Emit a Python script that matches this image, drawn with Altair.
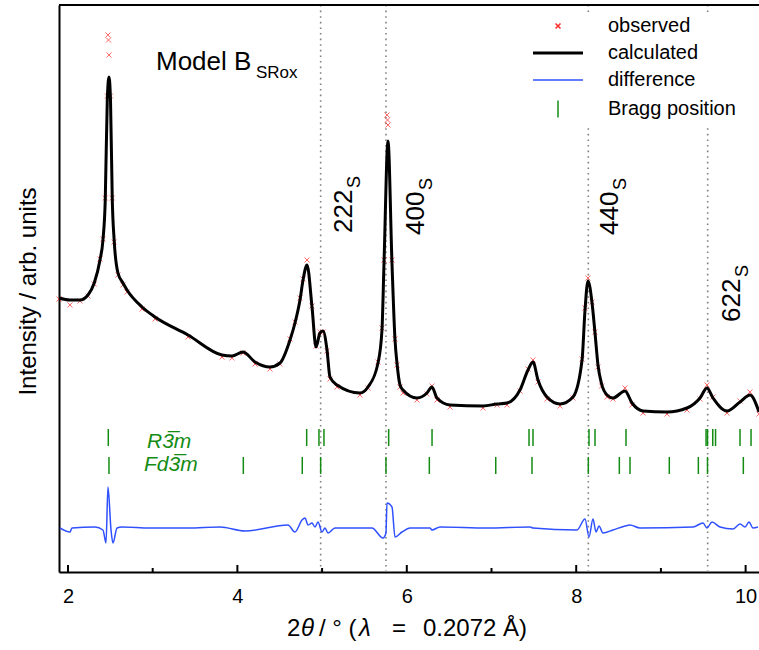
import altair as alt
import pandas as pd

FONT = "Liberation Sans"
W, H = 700, 567

# ---------------- data ----------------
SERIES = ["observed", "calculated", "difference", "Bragg position"]

calc_2theta = [1.894, 2.024, 2.142, 2.236, 2.310, 2.378, 2.413, 2.440, 2.464, 2.484,
               2.502, 2.523, 2.545, 2.590, 2.649, 2.697, 2.874, 3.027, 3.417, 3.818,
               3.936, 4.066, 4.208, 4.385, 4.503, 4.621, 4.680, 4.739, 4.775, 4.822,
               4.881, 4.928, 4.975, 5.011, 5.058, 5.093, 5.176, 5.447, 5.542, 5.660,
               5.707, 5.731, 5.778, 5.825, 5.861, 5.884, 5.920, 5.955, 6.120, 6.238,
               6.297, 6.357, 6.510, 6.900, 7.065, 7.183, 7.336, 7.431, 7.490, 7.549,
               7.655, 7.809, 7.962, 8.069, 8.104, 8.139, 8.187, 8.222, 8.257, 8.300,
               8.364, 8.434, 8.576, 8.659, 8.789, 9.072, 9.308, 9.462, 9.544, 9.615,
               9.780, 9.934, 10.052, 10.158]
calc_intensity = [274, 272, 272, 277, 289, 312, 332, 372, 472, 495,
                  472, 372, 332, 299, 289, 282, 265, 255, 237, 217,
                  216, 220, 210, 205, 209, 232, 249, 272, 292, 307,
                  265, 225, 239, 241, 222, 195, 187, 179, 185, 209,
                  242, 309, 431, 309, 232, 209, 187, 182, 174, 179,
                  185, 174, 167, 166, 168, 169, 182, 202, 210, 192,
                  175, 168, 175, 212, 262, 291, 269, 239, 207, 188,
                  177, 174, 181, 169, 161, 160, 164, 174, 184, 174,
                  161, 170, 177, 160]

obs_2theta = [1.894, 2.024, 2.142, 2.236, 2.310, 2.378, 2.413, 2.440, 2.464, 2.472,
              2.478, 2.484, 2.502, 2.523, 2.545, 2.590, 2.649, 2.697, 2.874, 3.027,
              3.417, 3.818, 3.936, 4.066, 4.208, 4.385, 4.503, 4.621, 4.680, 4.739,
              4.775, 4.822, 4.881, 4.928, 4.975, 5.011, 5.058, 5.093, 5.176, 5.447,
              5.542, 5.660, 5.707, 5.731, 5.766, 5.772, 5.778, 5.825, 5.861, 5.884,
              5.920, 5.955, 6.120, 6.238, 6.297, 6.357, 6.510, 6.900, 7.065, 7.183,
              7.336, 7.431, 7.490, 7.549, 7.655, 7.809, 7.962, 8.069, 8.104, 8.139,
              8.187, 8.222, 8.257, 8.300, 8.364, 8.434, 8.576, 8.659, 8.789, 9.072,
              9.308, 9.462, 9.544, 9.615, 9.780, 9.934, 10.052, 10.158]
obs_intensity = [273, 267, 271, 276, 288, 313, 333, 374, 476, 537,
                 532, 517, 476, 374, 330, 297, 287, 280, 263, 253,
                 235, 215, 214, 219, 208, 203, 208, 233, 250, 274,
                 293, 312, 266, 226, 240, 240, 221, 193, 185, 177,
                 184, 210, 244, 312, 457, 452, 447, 312, 233, 207,
                 185, 179, 172, 178, 186, 172, 165, 164, 167, 167,
                 181, 203, 212, 190, 173, 166, 174, 213, 264, 294,
                 270, 240, 205, 186, 175, 173, 184, 167, 159, 158,
                 162, 173, 187, 175, 159, 171, 180, 158]

diff_2theta = [1.906, 2.024, 2.047, 2.319, 2.413, 2.449, 2.472, 2.508, 2.531, 2.579,
               2.638, 2.968, 3.417, 3.795, 4.090, 4.597, 4.680, 4.763, 4.798, 4.834,
               4.881, 4.916, 4.952, 4.999, 5.034, 5.070, 5.152, 5.589, 5.719, 5.754,
               5.766, 5.825, 5.861, 5.943, 6.038, 6.274, 6.297, 6.392, 6.947, 7.455,
               7.490, 8.009, 8.104, 8.151, 8.198, 8.234, 8.269, 8.316, 8.434, 8.576,
               8.635, 8.753, 9.379, 9.497, 9.544, 9.603, 9.698, 9.851, 9.934, 9.993,
               10.040, 10.087, 10.146]
diff_intensity = [44, 40, 44, 45, 42, 29, 85, 42, 29, 44,
                  45, 44, 44, 45, 41, 47, 40, 52, 54, 47,
                  49, 45, 50, 40, 44, 39, 44, 44, 34, 39,
                  69, 65, 35, 40, 44, 44, 42, 45, 44, 45,
                  44, 42, 53, 35, 53, 40, 46, 39, 42, 46,
                  47, 44, 45, 49, 44, 50, 45, 43, 48, 45,
                  50, 44, 45]

r3m_positions = [2.476, 4.818, 4.963, 5.022, 5.786, 6.298, 7.443, 7.490, 8.151,
                 8.222, 8.588, 9.533, 9.550, 9.612, 9.645, 9.934, 10.064]
fd3m_positions = [2.484, 4.070, 4.766, 4.983, 5.754, 6.266, 7.050, 7.478, 8.143,
                  8.509, 8.635, 9.099, 9.442, 9.550, 9.973]

hkl_labels = ["222", "400", "440", "622"]
hkl_2theta = [4.983, 5.754, 8.143, 9.552]

x_tick_values = [2, 4, 6, 8, 10]
x_minor_ticks = [3, 5, 7, 9]

# ---------------- layout / style constants ----------------
SERIES_COLORS = ["#ff2a2a", "#000000", "#2f50ff", "#148c14"]
SERIES_SHAPES = [
    "M-0.5,-0.5L0.5,0.5M-0.5,0.5L0.5,-0.5",
    "M-5,-0.15L5,-0.15M-5,0.15L5,0.15",
    "M-5,0L5,0",
    "M0,-1.7L0,1.7",
]
PHASE_ROW_Y = {"R3m": 134.5, "Fd3m": 106.5}
PHASE_LABELS = [("R3\u0305m", 2.933, 124), ("Fd3\u0305m", 2.897, 101)]
HKL_LABEL_X = [5.353, 6.203, 8.493, 9.934]
HKL_LABEL_Y = [339, 337, 337, 250]
MODEL_POS = (3.039, 502)

# ---------------- frames ----------------
calc_df = pd.DataFrame({"tt": calc_2theta, "I": calc_intensity})
obs_df = pd.DataFrame({"tt": obs_2theta, "I": obs_intensity, "series": "observed"})
diff_df = pd.DataFrame({"tt": diff_2theta, "I": diff_intensity})
bragg_df = pd.concat([
    pd.DataFrame({"tt": r3m_positions, "row": PHASE_ROW_Y["R3m"]}),
    pd.DataFrame({"tt": fd3m_positions, "row": PHASE_ROW_Y["Fd3m"]}),
], ignore_index=True)
bragg_df["series"] = "Bragg position"
hkl_df = pd.DataFrame({"tt": hkl_2theta, "label": hkl_labels,
                       "lx": HKL_LABEL_X, "ly": HKL_LABEL_Y})
phase_df = pd.DataFrame({"label": [p[0] for p in PHASE_LABELS],
                         "x": [p[1] for p in PHASE_LABELS],
                         "y": [p[2] for p in PHASE_LABELS]})
model_df = pd.DataFrame({"x": [MODEL_POS[0]], "y": [MODEL_POS[1]]})
major_df = pd.DataFrame({"t": x_tick_values})
minor_df = pd.DataFrame({"t": x_minor_ticks})
one = pd.DataFrame({"a": [0]})

x_scale = alt.Scale(domain=[1.894, 10.158], nice=False, zero=False)
y_scale = alt.Scale(domain=[0, 567], nice=False, zero=False)

x_axis = alt.Axis(values=x_tick_values, format="d", title=None, grid=False, ticks=False,
                  labelFontSize=20, labelFont=FONT, labelColor="black", labelPadding=14,
                  labelFlush=False, domainColor="black", domainWidth=2)
y_axis = alt.Axis(labels=False, ticks=False, grid=False, title="Intensity / arb. units",
                  titleFontSize=24, titleFont=FONT, titleFontWeight="normal",
                  titleColor="black", titleX=-24, titleY=286, titleAngle=270,
                  titleAlign="center", titleBaseline="alphabetic",
                  domainColor="black", domainWidth=2)


def X(f):
    return alt.X(f"{f}:Q", scale=x_scale, axis=x_axis)


def Y(f):
    return alt.Y(f"{f}:Q", scale=y_scale, axis=y_axis)


color_scale = alt.Scale(domain=SERIES, range=SERIES_COLORS)
shape_scale = alt.Scale(domain=SERIES, range=SERIES_SHAPES)
legend = alt.Legend(title=None, orient="none", legendX=470, legendY=7, fillColor="white",
                    padding=4, labelFont=FONT, labelFontSize=20, labelColor="black",
                    symbolSize=100, symbolStrokeWidth=1.5, symbolOffset=15,
                    labelOffset=40, rowPadding=7, symbolOpacity=1, labelLimit=300)

dotted = alt.Chart(hkl_df).mark_rule(color="#808080", strokeDash=[1.6, 4],
                                     strokeWidth=1.6).encode(x=X("tt"))

observed = alt.Chart(obs_df).mark_point(filled=False, size=100, strokeWidth=1,
                                        opacity=0.7).encode(
    x=X("tt"), y=Y("I"),
    color=alt.Color("series:N", scale=color_scale, legend=legend),
    shape=alt.Shape("series:N", scale=shape_scale, legend=legend),
)

calc = alt.Chart(calc_df).mark_line(color="black", strokeWidth=3, interpolate="monotone",
                                    strokeJoin="round").encode(x=X("tt"), y=Y("I"))
diff = alt.Chart(diff_df).mark_line(color=SERIES_COLORS[2], strokeWidth=1.5,
                                    interpolate="monotone").encode(x=X("tt"), y=Y("I"))

bragg = alt.Chart(bragg_df).mark_point(filled=False, size=100, strokeWidth=1.5,
                                       opacity=1).encode(
    x=X("tt"), y=Y("row"),
    color=alt.Color("series:N", scale=color_scale, legend=legend),
    shape=alt.Shape("series:N", scale=shape_scale, legend=legend),
)

phase_text = alt.Chart(phase_df).mark_text(align="left", baseline="alphabetic", font=FONT,
                                           fontSize=21, fontStyle="italic",
                                           color=SERIES_COLORS[3]).encode(
    x=X("x"), y=Y("y"), text="label:N")

hkl_main = alt.Chart(hkl_df).mark_text(angle=270, align="left", baseline="alphabetic",
                                       font=FONT, fontSize=26, color="black").encode(
    x=X("lx"), y=Y("ly"), text="label:N")
hkl_sub = alt.Chart(hkl_df).mark_text(angle=270, align="left", baseline="alphabetic",
                                      font=FONT, fontSize=18, color="black", dx=45,
                                      dy=8, text="S").encode(x=X("lx"), y=Y("ly"))

model_main = alt.Chart(model_df).mark_text(align="left", baseline="alphabetic", font=FONT,
                                           fontSize=26, color="black",
                                           text="Model B").encode(x=X("x"), y=Y("y"))
model_sub = alt.Chart(model_df).mark_text(align="left", baseline="alphabetic", font=FONT,
                                          fontSize=17, color="black", text="SRox",
                                          dx=100, dy=8).encode(x=X("x"), y=Y("y"))

major_ticks = alt.Chart(major_df).mark_rule(color="black", strokeWidth=2).encode(
    x=X("t"), y=alt.value(H), y2=alt.value(H - 7))
minor_ticks = alt.Chart(minor_df).mark_rule(color="black", strokeWidth=2).encode(
    x=X("t"), y=alt.value(H), y2=alt.value(H - 4))
top_frame = alt.Chart(one).mark_rule(color="black", strokeWidth=2).encode(
    x=alt.value(0), x2=alt.value(W), y=alt.value(0))

title_parts = [("2", "normal", 228), ("\u03b8", "italic", 242), ("/ \u00b0 (", "normal", 260),
               ("\u03bb", "italic", 300), ("=", "normal", 333), ("0.2072 \u00c5)", "normal", 364)]
title_layers = [
    alt.Chart(one).mark_text(text=t, fontStyle=s, align="left", baseline="alphabetic",
                             font=FONT, fontSize=24, color="black").encode(
        x=alt.value(px), y=alt.value(631))
    for t, s, px in title_parts
]

chart = alt.layer(
    dotted, observed, calc, diff, bragg, phase_text, hkl_main, hkl_sub,
    model_main, model_sub, major_ticks, minor_ticks, top_frame, *title_layers
).properties(
    width=W, height=H,
    padding={"left": 59, "top": 5, "right": 0, "bottom": 78},
    autosize=alt.AutoSizeParams(type="none"),
).configure_view(stroke=None).configure(background="white")

chart.save("out.html", embed_options={"renderer": "svg", "actions": False})
